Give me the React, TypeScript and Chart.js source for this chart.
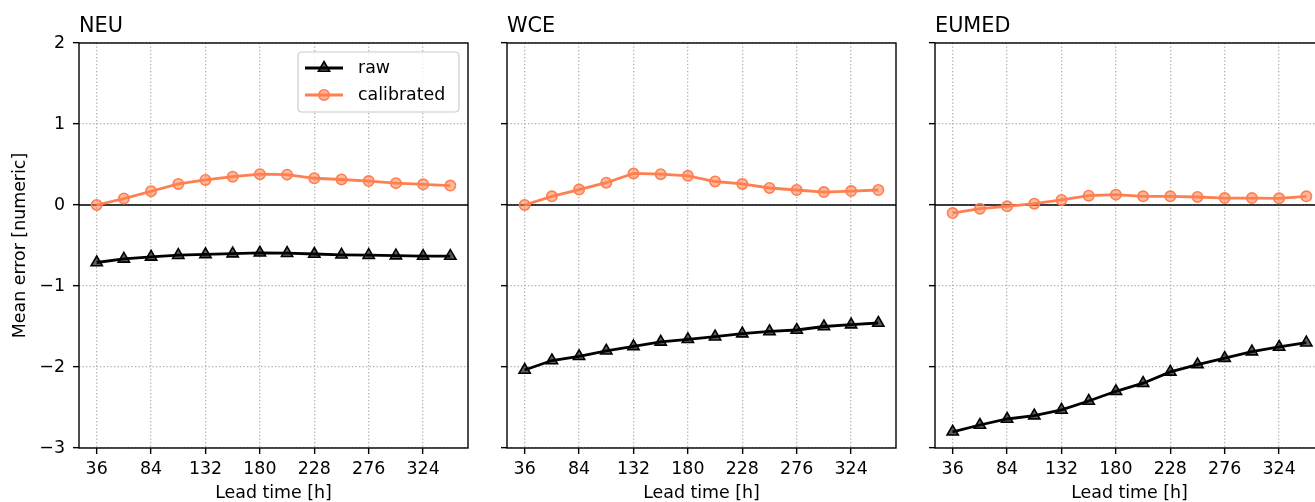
import React, { useEffect, useRef } from "react";
import { Chart, registerables } from "chart.js";

Chart.register(...registerables);

// ---------------- data ----------------
const LEAD_TIMES = [36, 60, 84, 108, 132, 156, 180, 204, 228, 252, 276, 300, 324, 348];
const X_TICKS = [36, 84, 132, 180, 228, 276, 324];
const Y_TICKS = [-3, -2, -1, 0, 1, 2];
const SERIES_LABELS = ["raw", "calibrated"];
const REGIONS = ["NEU", "WCE", "EUMED"];

const NEU_RAW = [-0.71, -0.665, -0.64, -0.62, -0.61, -0.6, -0.59, -0.595, -0.605, -0.615, -0.62, -0.625, -0.63, -0.63];
const NEU_CAL = [0.0, 0.08, 0.17, 0.26, 0.31, 0.35, 0.38, 0.375, 0.33, 0.315, 0.295, 0.27, 0.255, 0.24];
const WCE_RAW = [-2.037, -1.92, -1.868, -1.8, -1.745, -1.69, -1.658, -1.626, -1.588, -1.56, -1.543, -1.5, -1.477, -1.457];
const WCE_CAL = [0.0, 0.107, 0.19, 0.275, 0.39, 0.38, 0.36, 0.29, 0.26, 0.21, 0.185, 0.16, 0.172, 0.185];
const EUMED_RAW = [-2.8, -2.716, -2.642, -2.6, -2.53, -2.42, -2.3, -2.2, -2.06, -1.97, -1.89, -1.81, -1.753, -1.7];
const EUMED_CAL = [-0.1, -0.045, -0.016, 0.016, 0.062, 0.115, 0.128, 0.107, 0.107, 0.099, 0.086, 0.086, 0.082, 0.107];

const X_LABEL = "Lead time [h]";
const Y_LABEL = "Mean error [numeric]";

// ---------------- styles ----------------
const FONT = "'DejaVu Sans', sans-serif";
const CORAL = "rgb(255,127,80)";
const CORAL_FACE = "rgba(255,127,80,0.55)";
const RAW_FACE = "rgba(0,0,0,0.62)";
const TICK_SIZE = 17.4;
const TITLE_SIZE = 20.8;

const zeroLinePlugin = {
  id: "zeroLine",
  beforeDatasetsDraw(chart: any) {
    const { ctx, chartArea, scales } = chart;
    const y = scales.y.getPixelForValue(0);
    ctx.save();
    ctx.strokeStyle = "#000";
    ctx.lineWidth = 1.7;
    ctx.beginPath();
    ctx.moveTo(chartArea.left, y);
    ctx.lineTo(chartArea.right, y);
    ctx.stroke();
    ctx.restore();
  },
};

const framePlugin = {
  id: "frame",
  afterDatasetsDraw(chart: any) {
    const { ctx, chartArea } = chart;
    ctx.save();
    ctx.strokeStyle = "#000";
    ctx.lineWidth = 1.4;
    ctx.strokeRect(chartArea.left, chartArea.top, chartArea.right - chartArea.left, chartArea.bottom - chartArea.top);
    ctx.restore();
  },
};

const panelTitlePlugin = {
  id: "panelTitle",
  afterDraw(chart: any, _args: any, opts: any) {
    const { ctx, chartArea } = chart;
    ctx.save();
    ctx.font = `${TITLE_SIZE}px ${FONT}`;
    ctx.fillStyle = "#000";
    ctx.textAlign = "left";
    ctx.textBaseline = "alphabetic";
    ctx.fillText(opts.text || "", chartArea.left, chartArea.top - 11);
    ctx.restore();
  },
};

function drawMarker(ctx: CanvasRenderingContext2D, ds: any, x: number, y: number) {
  ctx.save();
  ctx.fillStyle = ds.pointBackgroundColor;
  ctx.strokeStyle = ds.pointBorderColor;
  ctx.lineWidth = ds.pointBorderWidth;
  ctx.beginPath();
  const r = ds.pointRadius;
  if (ds.pointStyle === "triangle") {
    for (let k = 0; k < 3; k++) {
      const a = (k * 2 * Math.PI) / 3;
      const px = x + Math.sin(a) * r;
      const py = y - Math.cos(a) * r;
      if (k === 0) ctx.moveTo(px, py);
      else ctx.lineTo(px, py);
    }
    ctx.closePath();
  } else {
    ctx.arc(x, y, r, 0, Math.PI * 2);
  }
  ctx.fill();
  ctx.stroke();
  ctx.restore();
}

const insideLegendPlugin = {
  id: "insideLegend",
  afterDraw(chart: any, _args: any, opts: any) {
    if (!opts.show) return;
    const { ctx, chartArea } = chart;
    const datasets = chart.data.datasets;
    const w = 161;
    const h = 60;
    const right = chartArea.right - 9;
    const top = chartArea.top + 9;
    const left = right - w;
    ctx.save();
    ctx.beginPath();
    const rr = 4;
    ctx.moveTo(left + rr, top);
    ctx.lineTo(left + w - rr, top);
    ctx.quadraticCurveTo(left + w, top, left + w, top + rr);
    ctx.lineTo(left + w, top + h - rr);
    ctx.quadraticCurveTo(left + w, top + h, left + w - rr, top + h);
    ctx.lineTo(left + rr, top + h);
    ctx.quadraticCurveTo(left, top + h, left, top + h - rr);
    ctx.lineTo(left, top + rr);
    ctx.quadraticCurveTo(left, top, left + rr, top);
    ctx.closePath();
    ctx.fillStyle = "rgba(255,255,255,0.8)";
    ctx.fill();
    ctx.strokeStyle = "#cccccc";
    ctx.lineWidth = 1.2;
    ctx.stroke();
    datasets.forEach((ds: any, i: number) => {
      const cy = top + 16 + i * 27;
      ctx.strokeStyle = ds.borderColor;
      ctx.lineWidth = ds.borderWidth;
      ctx.beginPath();
      ctx.moveTo(left + 7, cy);
      ctx.lineTo(left + 45, cy);
      ctx.stroke();
      drawMarker(ctx, ds, left + 26, cy);
      ctx.fillStyle = "#000";
      ctx.font = `${TICK_SIZE}px ${FONT}`;
      ctx.textAlign = "left";
      ctx.textBaseline = "middle";
      ctx.fillText(ds.label, left + 60, cy);
    });
    ctx.restore();
  },
};

type PanelProps = {
  title: string;
  raw: number[];
  cal: number[];
  left: number;
  width: number;
  yWidth: number;
  padRight: number;
  showYLabels: boolean;
  showLegend: boolean;
};

function Panel(p: PanelProps) {
  const ref = useRef<HTMLCanvasElement | null>(null);
  useEffect(() => {
    if (!ref.current) return;
    const rawData = LEAD_TIMES.map((x, i) => ({ x, y: p.raw[i] }));
    const calData = LEAD_TIMES.map((x, i) => ({ x, y: p.cal[i] }));
    const gridCommon = {
      color: "#b0b0b0",
      lineWidth: 1.3,
      tickColor: "#000",
      tickLength: 6,
      tickWidth: 1.4,
      tickBorderDash: [],
      drawTicks: true,
      drawOnChartArea: true,
    };
    const chart = new Chart(ref.current, {
      type: "line",
      data: {
        datasets: [
          {
            label: SERIES_LABELS[0],
            data: rawData,
            borderColor: "#000",
            borderWidth: 2.8,
            pointStyle: "triangle",
            pointRadius: 6.5,
            pointHoverRadius: 6.5,
            pointBackgroundColor: RAW_FACE,
            pointBorderColor: "#000",
            pointBorderWidth: 1.6,
            tension: 0,
            fill: false,
          } as any,
          {
            label: SERIES_LABELS[1],
            data: calData,
            borderColor: CORAL,
            borderWidth: 2.8,
            pointStyle: "circle",
            pointRadius: 5.2,
            pointHoverRadius: 5.2,
            pointBackgroundColor: CORAL_FACE,
            pointBorderColor: CORAL,
            pointBorderWidth: 1.6,
            tension: 0,
            fill: false,
          } as any,
        ],
      },
      options: {
        responsive: false,
        animation: false,
        devicePixelRatio: 1,
        events: [],
        layout: { padding: { left: 0, right: p.padRight, top: 43, bottom: 0 } },
        plugins: {
          legend: { display: false },
          tooltip: { enabled: false },
          title: { display: false },
          panelTitle: { text: p.title },
          insideLegend: { show: p.showLegend },
        } as any,
        scales: {
          x: {
            type: "linear",
            min: 20.4,
            max: 363.6,
            afterBuildTicks: (scale: any) => {
              scale.ticks = X_TICKS.map((v) => ({ value: v }));
            },
            afterFit: (scale: any) => {
              scale.height = 54;
            },
            grid: gridCommon as any,
            border: { display: false, dash: [1.3, 2.2] } as any,
            ticks: {
              color: "#000",
              font: { family: FONT, size: TICK_SIZE },
              padding: 5,
              maxRotation: 0,
              autoSkip: false,
              callback: (v: any) => String(v),
            },
            title: {
              display: true,
              text: X_LABEL,
              color: "#000",
              font: { family: FONT, size: TICK_SIZE, lineHeight: 1 },
              padding: { top: 0, bottom: 0 },
            },
          },
          y: {
            type: "linear",
            min: -3,
            max: 2,
            afterBuildTicks: (scale: any) => {
              scale.ticks = Y_TICKS.map((v) => ({ value: v }));
            },
            afterFit: (scale: any) => {
              scale.width = p.yWidth;
            },
            grid: gridCommon as any,
            border: { display: false, dash: [1.3, 2.2] } as any,
            ticks: {
              display: p.showYLabels,
              color: "#000",
              font: { family: FONT, size: TICK_SIZE },
              padding: 8,
              callback: (v: any) => (Number(v) < 0 ? "\u2212" + Math.abs(Number(v)) : String(v)),
            },
            title: {
              display: p.showYLabels,
              text: Y_LABEL,
              color: "#000",
              font: { family: FONT, size: TICK_SIZE, lineHeight: 1 },
              padding: { top: 12, bottom: 0 },
            },
          },
        },
      },
      plugins: [zeroLinePlugin, framePlugin, panelTitlePlugin, insideLegendPlugin],
    });
    return () => chart.destroy();
  }, []);
  return (
    <div style={{ position: "absolute", left: p.left, top: 0, width: p.width, height: 502 }}>
      <canvas ref={ref} width={p.width} height={502} style={{ display: "block", width: p.width, height: 502 }} />
    </div>
  );
}

export default function App() {
  return (
    <div
      style={{
        position: "fixed",
        left: 0,
        top: 0,
        width: 1315,
        height: 502,
        overflow: "hidden",
        background: "#fff",
      }}
    >
      <Panel title={REGIONS[0]} raw={NEU_RAW} cal={NEU_CAL} left={0} width={480} yWidth={79} padRight={12} showYLabels={true} showLegend={true} />
      <Panel title={REGIONS[1]} raw={WCE_RAW} cal={WCE_CAL} left={480} width={430} yWidth={27} padRight={14} showYLabels={false} showLegend={false} />
      <Panel title={REGIONS[2]} raw={EUMED_RAW} cal={EUMED_CAL} left={908} width={430} yWidth={27} padRight={14} showYLabels={false} showLegend={false} />
    </div>
  );
}
